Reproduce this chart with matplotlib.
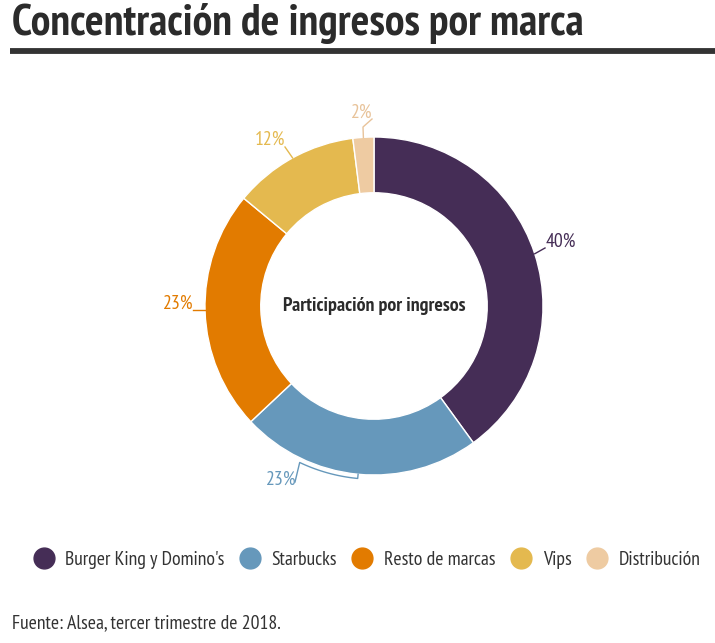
import numpy as np
import matplotlib
matplotlib.use("Agg")
import matplotlib.pyplot as plt
from matplotlib.lines import Line2D

plt.rcParams['font.family'] = ['PT Sans Narrow', 'DejaVu Sans']

# ---- data ----
categories = ["Burger King y Domino's", "Starbucks", "Resto de marcas", "Vips", "Distribución"]
values = [40, 23, 23, 12, 2]
labels = ["40%", "23%", "23%", "12%", "2%"]
colors = ["#452d56", "#6698bb", "#e27b00", "#e4b94f", "#eecba2"]

W, H = 715, 643
fig = plt.figure(figsize=(W / 100, H / 100), dpi=100)

# pie axes: centre (374, 306) px, radius 169 px
R_PX = 169
CX, CY = 374, 306
LIM = 1.6
side = 2 * LIM * R_PX
ax = fig.add_axes([(CX - side / 2) / W, (H - CY - side / 2) / H, side / W, side / H])

wedges, _ = ax.pie(values, colors=colors, startangle=90, counterclock=False, radius=1.0,
                   wedgeprops=dict(width=0.33, edgecolor='white', linewidth=1.0))
ax.set_xlim(-LIM, LIM)
ax.set_ylim(-LIM, LIM)
ax.set_aspect('equal')
ax.axis('off')

def px(x, y):
    return ((x - CX) / R_PX, (CY - y) / R_PX)

mids = [(w.theta1 + w.theta2) / 2 for w in wedges]
def edge(i, r=1.0, dang=0.0):
    a = np.deg2rad(mids[i] + dang)
    return (r * np.cos(a), r * np.sin(a))

lab_kw = dict(fontsize=14.2, va='center')
# 40%
p0 = edge(0); p1 = px(545, 248)
ax.add_line(Line2D([p0[0], p1[0]], [p0[1], p1[1]], color=colors[0], lw=1))
ax.text(*px(546, 242), labels[0], color=colors[0], ha='left', **lab_kw)
# 23% Starbucks (crooked connector)
a_end = np.deg2rad(mids[1]); a_start = np.deg2rad(mids[1] - 20.0)
rr = 1.025
ts = np.linspace(a_end, a_start, 40)
xs = [np.cos(a_end)] + list(rr * np.cos(ts))
ys = [np.sin(a_end)] + list(rr * np.sin(ts))
q = px(295, 482)
xs.append(q[0]); ys.append(q[1])
ax.add_line(Line2D(xs, ys, color=colors[1], lw=1))
ax.text(*px(296, 480), labels[1], color=colors[1], ha='right', **lab_kw)
# 23% Resto
p0 = px(205, 310); p1 = px(193, 310)
ax.add_line(Line2D([p0[0], p1[0]], [p0[1], p1[1]], color=colors[2], lw=1))
ax.text(*px(193, 304), labels[2], color=colors[2], ha='right', **lab_kw)
# 12%
p0 = edge(3); p1 = px(285, 147)
ax.add_line(Line2D([p0[0], p1[0]], [p0[1], p1[1]], color=colors[3], lw=1))
ax.text(*px(270, 140), labels[3], color=colors[3], ha='center', **lab_kw)
# 2%
p0 = edge(4); p1 = px(363, 127); p2 = px(372, 119)
ax.add_line(Line2D([p0[0], p1[0], p2[0]], [p0[1], p1[1], p2[1]], color="#e8c39a", lw=1))
ax.text(*px(362, 113), labels[4], color="#e8c39a", ha='center', **lab_kw)

# centre label
ax.text(0, px(0, 306)[1], "Participación por ingresos", ha='center', va='center',
        fontsize=14.3, fontweight='bold', color='#2b2b2b')

# title and rule
fig.text(12 / W, 1 - 24 / H, "Concentración de ingresos por marca", ha='left', va='center',
         fontsize=31.6, fontweight='bold', color='#2b2b2b')
fig.add_artist(Line2D([10 / W, 1.0], [1 - 50.5 / H, 1 - 50.5 / H], color='#333333', lw=4.2,
                      transform=fig.transFigure, solid_capstyle='butt'))

# legend
handles = [Line2D([], [], marker='o', linestyle='none', markersize=15, markerfacecolor=c,
                  markeredgecolor=c) for c in colors]
fig.legend(handles, categories, loc='center', bbox_to_anchor=(367 / W, 1 - 560 / H), ncol=5,
           frameon=False, fontsize=14.2, handletextpad=0.6, columnspacing=0.78,
           labelcolor='#333333', handlelength=1.0, borderpad=0, borderaxespad=0)

# source
fig.text(12 / W, 1 - 623 / H, "Fuente: Alsea, tercer trimestre de 2018.", ha='left', va='center',
         fontsize=14.2, color='#333333')

fig.savefig("out.png", dpi=100, facecolor='white')
